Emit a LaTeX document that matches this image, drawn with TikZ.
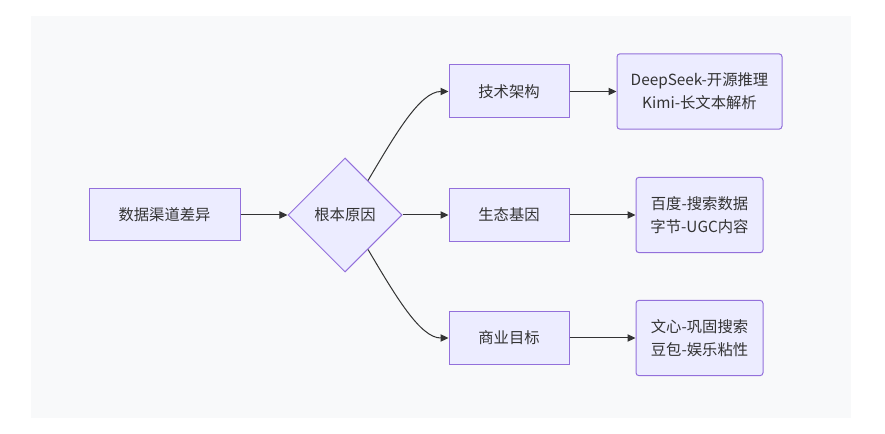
\documentclass[tikz,border=0pt]{standalone}
\usepackage{fontspec}
\setmainfont{Noto Sans CJK SC}
\usetikzlibrary{shapes.geometric,arrows.meta,calc}
\definecolor{bg}{HTML}{F8F9FA}
\definecolor{nodefill}{HTML}{ECECFF}
\definecolor{nodeborder}{HTML}{9370DB}
\definecolor{ink}{HTML}{333333}
\begin{document}
\begin{tikzpicture}[x=0.75pt,y=-0.75pt,
  every node/.style={font=\fontsize{11.5pt}{17pt}\selectfont, text=ink},
  box/.style={draw=nodeborder, fill=nodefill, line width=0.75pt, inner sep=0pt, align=center},
  midbox/.style={box, minimum width=90pt, minimum height=39.75pt},
  leafbox/.style={box, rounded corners=2.25pt, minimum height=56.5pt},
  decision/.style={box, diamond, aspect=1, minimum width=85.5pt, minimum height=85.5pt},
  edge/.style={draw=ink, line width=0.75pt, -{Triangle[length=6pt,width=5.5pt]}}]
\useasboundingbox (0,0) rectangle (885,434);
\fill[bg] (31,16) rectangle (851,418);

\node[box, minimum width=113.25pt, minimum height=39pt] (a) at (164.5,215) {数据渠道差异};
\node[decision] (d) at (345,215) {根本原因};
\node[midbox] (tech) at (509,91.5) {技术架构};
\node[midbox] (eco) at (509,215) {生态基因};
\node[midbox] (biz) at (509,338) {商业目标};
\node[leafbox, minimum width=123.75pt] (r1) at (699.5,91.5) {DeepSeek-开源推理\\Kimi-长文本解析};
\node[leafbox, minimum width=95.25pt] (r2) at (699.5,215) {百度-搜索数据\\字节-UGC内容};
\node[leafbox, minimum width=95.25pt] (r3) at (699.5,338) {文心-巩固搜索\\豆包-娱乐粘性};

\coordinate (s1) at ($(d.north)!0.4!(d.east)$);
\coordinate (s3) at ($(d.south)!0.4!(d.east)$);

\draw[edge] (a) -- (d);
\draw[edge] (s1) .. controls (395,135) and (420,91.5) .. (tech.west);
\draw[edge] (d.east) -- (eco.west);
\draw[edge] (s3) .. controls (395,295) and (420,338) .. (biz.west);
\draw[edge] (tech) -- (r1);
\draw[edge] (eco) -- (r2);
\draw[edge] (biz) -- (r3);
\end{tikzpicture}
\end{document}
